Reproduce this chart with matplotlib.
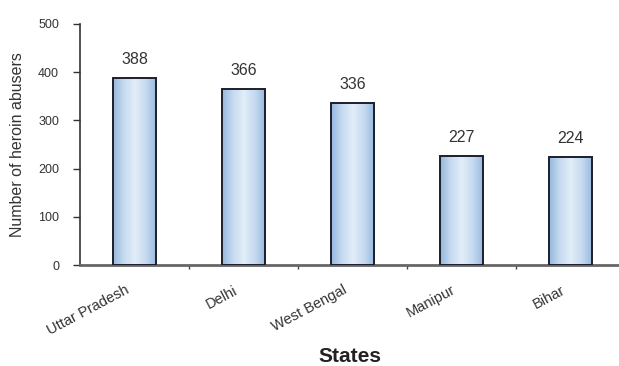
import numpy as np
import matplotlib
matplotlib.use("Agg")
import matplotlib.pyplot as plt
from matplotlib.colors import LinearSegmentedColormap
from matplotlib.transforms import ScaledTranslation

plt.rcParams['font.family'] = ['Liberation Sans', 'DejaVu Sans']

states = ["Uttar Pradesh", "Delhi", "West Bengal", "Manipur", "Bihar"]
abusers = [388, 366, 336, 227, 224]
y_ticks = [0, 100, 200, 300, 400, 500]

fig = plt.figure(figsize=(6.19, 3.66), dpi=100)
ax = fig.add_axes([80 / 619, 101 / 366, 545 / 619, 241 / 366])

x = np.arange(len(states))
width = 0.4
bars = ax.bar(x, abusers, width=width, facecolor='none', edgecolor='#1c1f2a',
              linewidth=1.4, zorder=3)

# horizontal shading across each bar: darker edges, pale centre
shade = LinearSegmentedColormap.from_list(
    "shade", ["#94b8de", "#c6daef", "#e2edf8", "#c6daef", "#94b8de"])
grad = np.linspace(0, 1, 256).reshape(1, -1)
for rect in bars:
    x0, w, h = rect.get_x(), rect.get_width(), rect.get_height()
    im = ax.imshow(grad, cmap=shade, aspect='auto',
                   extent=(x0, x0 + w, 0, h), zorder=2)
    im.set_clip_path(rect)

for xi, v in zip(x, abusers):
    ax.text(xi, v + 22, str(v), ha='center', va='bottom', fontsize=11.5,
            color='#333333')

ax.set_xlim(-0.5, len(states) - 0.5)
ax.set_ylim(0, 500)
ax.set_yticks(y_ticks)
ax.set_yticklabels([str(t) for t in y_ticks], fontsize=9, color='#333333')
ax.tick_params(axis='y', direction='out', length=5, width=1, color='#333333', pad=10)

ax.set_xticks(x)
ax.set_xticklabels(states, rotation=28, ha='right', rotation_mode='anchor',
                   fontsize=10.5, color='#333333')
ax.tick_params(axis='x', which='major', length=0, pad=13)
shift = ScaledTranslation(-10 / 100, 0, fig.dpi_scale_trans)
for lbl in ax.get_xticklabels():
    lbl.set_transform(lbl.get_transform() + shift)
ax.set_xticks(np.arange(0.5, len(states) - 0.5, 1.0), minor=True)
ax.tick_params(axis='x', which='minor', direction='out', length=3, width=1,
               color='#444444')

for side in ('top', 'right'):
    ax.spines[side].set_visible(False)
ax.spines['left'].set_color('#333333')
ax.spines['left'].set_linewidth(1.2)
ax.spines['bottom'].set_color('#666666')
ax.spines['bottom'].set_linewidth(2)

ax.set_ylabel("Number of heroin abusers", fontsize=11.5, color='#333333')
ax.yaxis.set_label_coords(-62 / 545, 0.5)
ax.yaxis.label.set_va('center')
ax.set_xlabel("States", fontsize=15, fontweight='bold', color='#222222')
ax.xaxis.set_label_coords((350 - 80) / 545, -92 / 241)
ax.xaxis.label.set_va('center')

fig.savefig("out.png", dpi=100)
